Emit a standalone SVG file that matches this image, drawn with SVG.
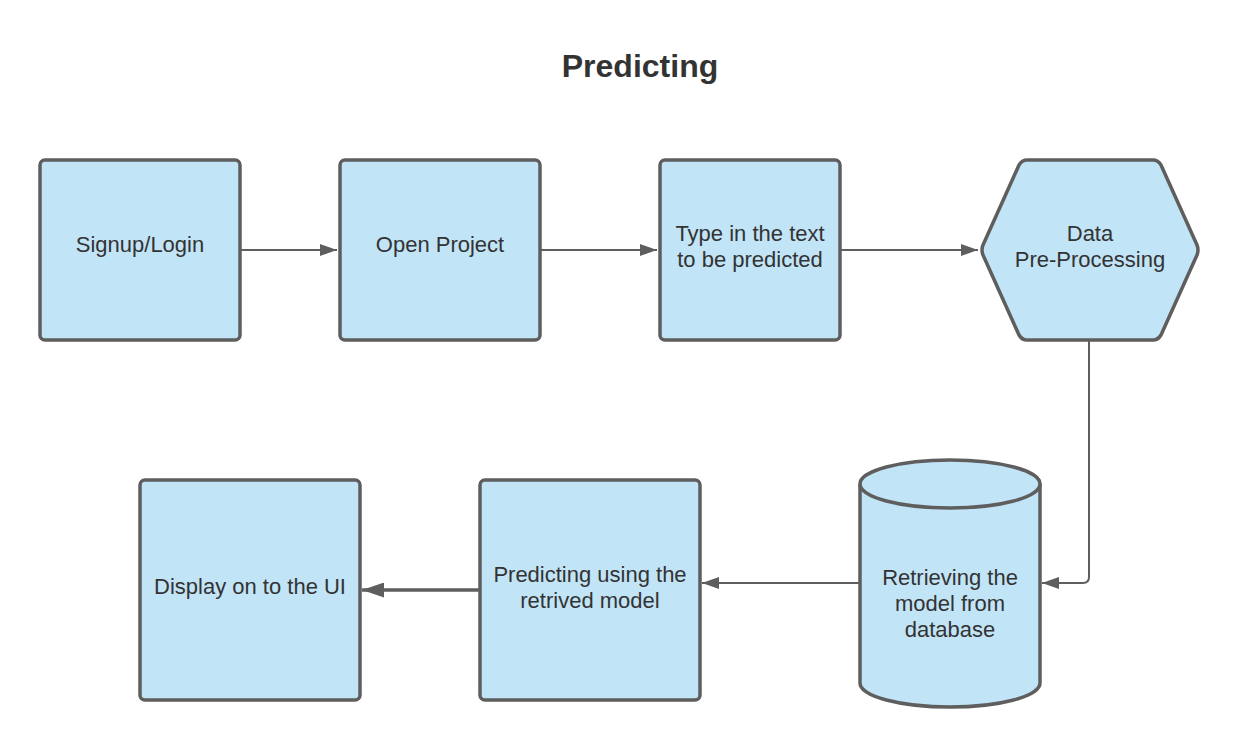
<svg xmlns="http://www.w3.org/2000/svg" width="1240" height="746" viewBox="0 0 1240 746">
<defs>
<style>
.n{fill:#c2e4f7;stroke:#5e5e5e;stroke-width:3.5;stroke-linejoin:round}
.t{font-family:"Liberation Sans",Arial,sans-serif;font-size:22px;fill:#333;text-anchor:middle}
.c{fill:none;stroke:#5e5e5e;stroke-width:2}
</style>
<marker id="a" markerWidth="17" markerHeight="12" refX="17" refY="6" orient="auto" markerUnits="userSpaceOnUse" viewBox="0 0 17 12">
<path d="M0,0 L17,6 L0,12 Z" fill="#5e5e5e"/>
</marker>
<marker id="b" markerWidth="22" markerHeight="15" refX="22" refY="7.5" orient="auto" markerUnits="userSpaceOnUse" viewBox="0 0 22 15">
<path d="M0,0 L22,7.5 L0,15 Z" fill="#5e5e5e"/>
</marker>
</defs>
<rect width="1240" height="746" fill="#fff"/>
<text x="640" y="77" style="font-family:'Liberation Sans',Arial,sans-serif;font-size:32px;font-weight:bold;fill:#333;text-anchor:middle">Predicting</text>
<g id="connectors">
<line class="c" x1="241" y1="250" x2="337" y2="250" marker-end="url(#a)"/>
<line class="c" x1="541" y1="250" x2="657" y2="250" marker-end="url(#a)"/>
<line class="c" x1="841" y1="250" x2="978" y2="250" marker-end="url(#a)"/>
<path class="c" d="M1089,341 L1089,577 Q1089,583 1083,583 L1042,583" marker-end="url(#a)"/>
<line class="c" x1="859" y1="583" x2="702" y2="583" marker-end="url(#a)"/>
<line x1="479" y1="590" x2="362" y2="590" stroke="#5e5e5e" stroke-width="3.5" marker-end="url(#b)"/>
</g>
<g id="signup">
<rect class="n" x="40" y="160" width="200" height="180" rx="5"/>
<text class="t" x="140" y="252">Signup/Login</text>
</g>
<g id="open-project">
<rect class="n" x="340" y="160" width="200" height="180" rx="5"/>
<text class="t" x="440" y="252">Open Project</text>
</g>
<g id="type-text">
<rect class="n" x="660" y="160" width="180" height="180" rx="5"/>
<text class="t" x="750" y="241">Type in the text</text>
<text class="t" x="750" y="267">to be predicted</text>
</g>
<g id="preprocessing">
<path class="n" d="M1027,160 L1153,160 Q1158,160 1161,165 L1197,245 Q1199,250 1197,255 L1161,335 Q1158,340 1153,340 L1027,340 Q1022,340 1019,335 L983,255 Q981,250 983,245 L1019,165 Q1022,160 1027,160 Z"/>
<text class="t" x="1090" y="241">Data</text>
<text class="t" x="1090" y="267">Pre-Processing</text>
</g>
<g id="database">
<path class="n" d="M860,484 L860,683 A90,24 0 0 0 1040,683 L1040,484 A90,24 0 0 0 860,484 Z"/>
<path class="n" style="fill:none" d="M860,484 A90,24 0 0 0 1040,484"/>
<text class="t" x="950" y="585">Retrieving the</text>
<text class="t" x="950" y="611">model from</text>
<text class="t" x="950" y="637">database</text>
</g>
<g id="predicting">
<rect class="n" x="480" y="480" width="220" height="220" rx="5"/>
<text class="t" x="590" y="582">Predicting using the</text>
<text class="t" x="590" y="608">retrived model</text>
</g>
<g id="display">
<rect class="n" x="140" y="480" width="220" height="220" rx="5"/>
<text class="t" x="250" y="594">Display on to the UI</text>
</g>
</svg>
